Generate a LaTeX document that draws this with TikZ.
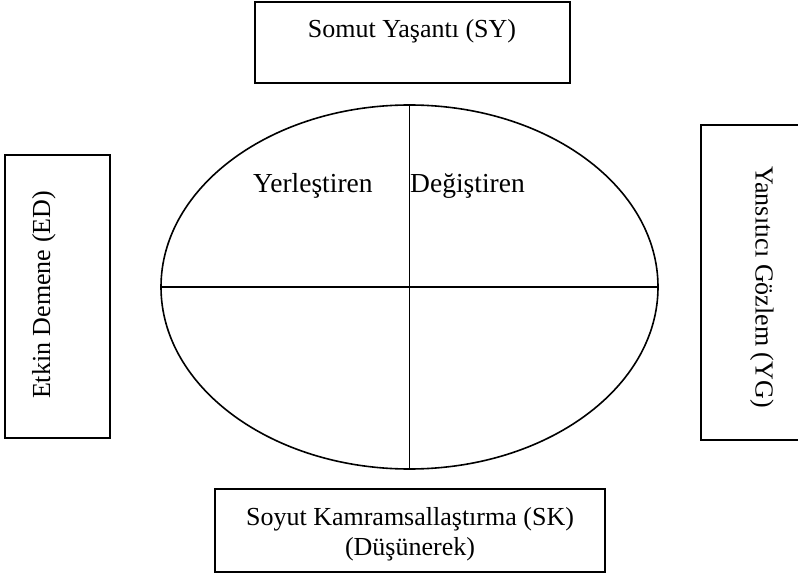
\documentclass[tikz,border=0pt]{standalone}
\usepackage{fontspec}
\setmainfont{Liberation Serif}
\usepackage{tikz}
\usetikzlibrary{shapes.geometric}

\begin{document}
\begin{tikzpicture}[x=1pt,y=1pt]
	\tikzstyle{every node}+=[inner sep=0pt, font=\fontsize{26}{30}\selectfont]
	\tikzstyle{kutu}=[draw=black, line width=1.8pt]
	\tikzstyle{ic}=[font=\fontsize{27.5}{32}\selectfont]
	\useasboundingbox (0,0) rectangle (798,-575);
	\clip (0,0) rectangle (798,-575);
	% kutular
	\node [kutu, minimum width=315pt, minimum height=81pt] (sy) at (412.5,-42.5) {};
	\node [anchor=base] (syyazi) at (412,-38) {Somut Yaşantı (SY)};
	\node [kutu, minimum width=105pt, minimum height=283pt] (ed) at (57.5,-296.5) {};
	\node [rotate=90, anchor=base] (edyazi) at (50,-295) {Etkin Demene (ED)};
	\node [kutu, minimum width=110pt, minimum height=315pt] (yg) at (756,-282.5) {};
	\node [rotate=-90, anchor=base] (ygyazi) at (755.5,-287) {Yansıtıcı Gözlem (YG)};
	\node [kutu, minimum width=390pt, minimum height=83pt] (sk) at (410,-530.5) {};
	\node [anchor=base] (skyazi) at (410,-525) {Soyut Kamramsallaştırma (SK)};
	\node [anchor=base] (skalt) at (410,-555) {(Düşünerek)};
	% elips
	\node [draw=black, ellipse, line width=1.6pt, minimum width=497pt, minimum height=364pt] (elips) at (409.5,-287) {};
	\draw [black, line width=1.6pt] (elips.north) -- (elips.south);
	\draw [black, line width=1.6pt] (elips.west) -- (elips.east);
	\node [ic, anchor=base west] (yer) at (253,-193) {Yerleştiren};
	\node [ic, anchor=base west] (deg) at (410,-193) {Değiştiren};
\end{tikzpicture}
\end{document}
